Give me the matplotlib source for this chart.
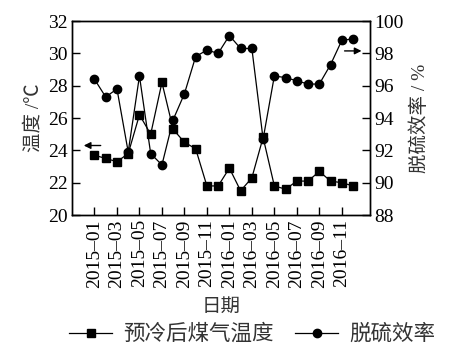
import matplotlib
matplotlib.use("Agg")
from matplotlib import pyplot as plt
import numpy as np

months = ['2015-01', '2015-02', '2015-03', '2015-04', '2015-05', '2015-06',
          '2015-07', '2015-08', '2015-09', '2015-10', '2015-11', '2015-12',
          '2016-01', '2016-02', '2016-03', '2016-04', '2016-05', '2016-06',
          '2016-07', '2016-08', '2016-09', '2016-10', '2016-11', '2016-12']
temp = [23.7, 23.5, 23.3, 23.8, 26.2, 25.0, 28.2, 25.3, 24.5, 24.1, 21.8, 21.8,
        22.9, 21.5, 22.3, 24.8, 21.8, 21.6, 22.1, 22.1, 22.7, 22.1, 22.0, 21.8]
eff = [96.4, 95.3, 95.8, 91.9, 96.6, 91.8, 91.1, 93.9, 95.5, 97.8, 98.2, 98.0,
       99.1, 98.3, 98.3, 92.7, 96.6, 96.5, 96.3, 96.1, 96.1, 97.3, 98.8, 98.9]

plt.rcParams['font.family'] = ['Liberation Serif', 'Noto Sans CJK SC']
plt.rcParams['font.size'] = 14
plt.rcParams['axes.unicode_minus'] = False

fig = plt.figure(figsize=(4.5, 3.59), dpi=100)
fig.subplots_adjust(left=0.16, right=0.822, top=0.9415, bottom=0.401)
ax = fig.add_subplot(111)
ax2 = ax.twinx()

x = np.arange(len(months))
l1, = ax.plot(x, temp, '-s', color='black', lw=0.9, ms=5.5, label='预冷后煤气温度')
l2, = ax2.plot(x, eff, '-o', color='black', lw=0.9, ms=6, label='脱硫效率')

ax.set_xlim(-2, 24.5)
ax.set_ylim(20, 32)
ax2.set_ylim(88, 100)
ax.set_yticks(np.arange(20, 33, 2))
ax2.set_yticks(np.arange(88, 101, 2))
ax.set_xticks(x[::2])
ax.set_xticklabels([m.replace('-', '–') for m in months[::2]], rotation=90)

ax.tick_params(direction='in', length=6, width=1, top=False, pad=3)
ax2.tick_params(direction='in', length=6, width=1, pad=3)
for a in (ax, ax2):
    for s in a.spines.values():
        s.set_linewidth(1)

ax.set_ylabel('温度 /℃', labelpad=4, color='#333333')
ax2.set_ylabel('脱硫效率 / %', labelpad=5, color='#333333')
ax.set_xlabel('日期', labelpad=8, color='#333333')

# direction arrows
ax.annotate('', xy=(-1.2, 24.3), xytext=(0.8, 24.3),
            arrowprops=dict(arrowstyle='-|>', color='black', lw=1, mutation_scale=10))
ax2.annotate('', xy=(24.0, 98.15), xytext=(22.0, 98.15),
             arrowprops=dict(arrowstyle='-|>', color='black', lw=1, mutation_scale=10))

leg = fig.legend(handles=[l1, l2], loc='center', bbox_to_anchor=(0.56, 0.067), ncol=2,
                 frameon=False, handlelength=2.0, columnspacing=1.0, handletextpad=0.5,
                 fontsize=15.5)
for t in leg.get_texts():
    t.set_color('#333333')

fig.savefig('out.png', dpi=100)
